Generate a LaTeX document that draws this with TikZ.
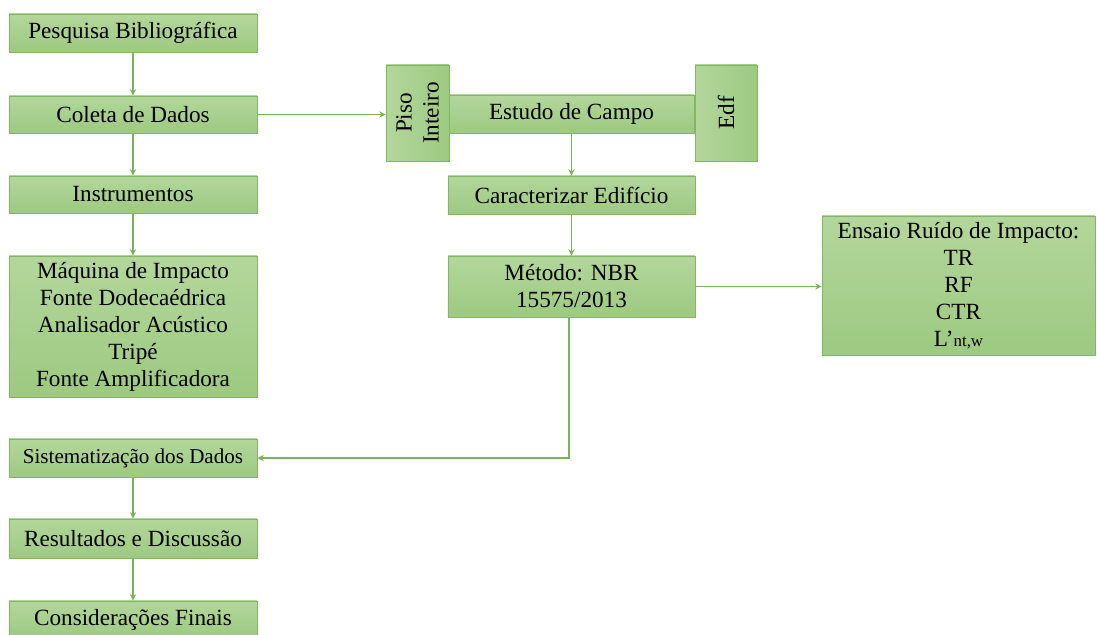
\documentclass[tikz,border=0pt]{standalone}
\usepackage{fontspec}
\setmainfont{Liberation Serif}
\usepackage{tikz}
\usetikzlibrary{positioning}
\usetikzlibrary{arrows.meta}
\definecolor{boxtop}{HTML}{B3D79B}
\definecolor{boxbot}{HTML}{9DC981}
\definecolor{boxline}{HTML}{86B56A}
\definecolor{flowgreen}{HTML}{7DB25C}
\tikzset{
  box/.style={rectangle, draw=boxline, line width=0.6pt, top color=boxtop, bottom color=boxbot, inner sep=0pt, align=center, font=\fontsize{16.5}{19.2}\selectfont},
  sidebox/.style={box, left color=boxtop, right color=boxbot},
  vtext/.style={rotate=90, align=center, font=\fontsize{16.5}{19.2}\selectfont},
  flow/.style={draw=flowgreen, line width=1.3pt, -{Stealth[length=4.5pt,width=4.5pt]}}
}
\begin{document}
\begin{tikzpicture}[x=0.025cm, y=-0.025cm]
   \useasboundingbox (0,0) rectangle (1097,635);
   \node[box, minimum width=6.2cm, minimum height=0.95cm] (pesq) at (133,33) {Pesquisa Bibliográfica};
   \node[box, minimum width=6.2cm, minimum height=0.925cm] (coleta) at (133,114.5) {Coleta de Dados};
   \node[box, minimum width=6.2cm, minimum height=0.925cm] (instr) at (133,194.5) {Instrumentos};
   \node[box, minimum width=6.2cm, minimum height=3.525cm] (maq) at (133,326.5) {Máquina de Impacto\\Fonte Dodecaédrica\\Analisador Acústico\\Tripé\\Fonte Amplificadora};
   \node[box, minimum width=6.2cm, minimum height=0.95cm, font=\fontsize{15}{18}\selectfont] (sist) at (133,458) {Sistematização dos Dados};
   \node[box, minimum width=6.2cm, minimum height=0.975cm] (result) at (133,538.5) {Resultados e Discussão};
   \node[box, minimum width=6.2cm, minimum height=0.95cm] (consid) at (133,620) {Considerações Finais};

   \node[box, minimum width=6.125cm, minimum height=0.95cm] (estudo) at (571.5,114) {Estudo de Campo};
   \node[sidebox, minimum width=1.575cm, minimum height=2.4cm] (piso) at (417.5,113) {};
   \node[vtext] (pisotext) at (piso) {Piso\\Inteiro};
   \node[sidebox, minimum width=1.55cm, minimum height=2.4cm] (edf) at (726,113) {};
   \node[vtext] (edftext) at (edf) {Edf};
   \node[box, minimum width=6.175cm, minimum height=0.95cm] (carac) at (571.5,195) {Caracterizar Edifício};
   \node[box, minimum width=6.175cm, minimum height=1.525cm] (metodo) at (571.5,286.5) {Método: NBR\\15575/2013};
   \node[box, minimum width=6.825cm, minimum height=3.475cm] (ensaio) at (958.5,285.5) {Ensaio Ruído de Impacto:\\TR\\RF\\CTR\\L’{\fontsize{12}{12}\selectfont nt,w}};

   \draw[flow] (pesq) -- (coleta);
   \draw[flow] (coleta) -- (instr);
   \draw[flow] (instr) -- (maq);
   \draw[flow] (coleta.east) -- (coleta.east -| piso.west);
   \draw[flow] (estudo) -- (carac);
   \draw[flow] (carac) -- (metodo);
   \draw[flow] (metodo.east) -- (metodo.east -| ensaio.west);
   \draw[flow] (metodo.south -| 569,0) |- (sist.east);
   \draw[flow] (sist) -- (result);
   \draw[flow] (result) -- (consid);
\end{tikzpicture}
\end{document}
